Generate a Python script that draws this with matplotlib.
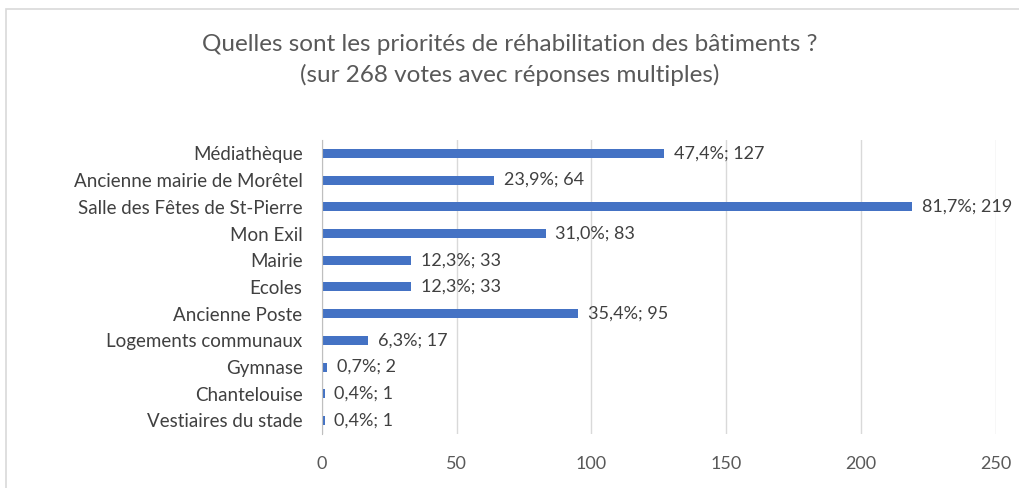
import matplotlib
matplotlib.use("Agg")
import matplotlib.pyplot as plt
from matplotlib.patches import Rectangle

categories = ["Médiathèque", "Ancienne mairie de Morêtel", "Salle des Fêtes de St-Pierre",
              "Mon Exil", "Mairie", "Ecoles", "Ancienne Poste", "Logements communaux",
              "Gymnase", "Chantelouise", "Vestiaires du stade"]
values = [127, 64, 219, 83, 33, 33, 95, 17, 2, 1, 1]
percents = ["47,4%", "23,9%", "81,7%", "31,0%", "12,3%", "12,3%", "35,4%", "6,3%", "0,7%", "0,4%", "0,4%"]
xticks = [0, 50, 100, 150, 200, 250]
title = "Quelles sont les priorités de réhabilitation des bâtiments ?\n(sur 268 votes avec réponses multiples)"

plt.rcParams['font.family'] = ['Lato', 'DejaVu Sans']

fig = plt.figure(figsize=(10.19, 4.88), dpi=100)
fig.patches.append(Rectangle((0.006, -0.1), 1.2, 1.082, transform=fig.transFigure,
                             fill=False, edgecolor="#d9d9d9", linewidth=1.2))
ax = fig.add_axes([0.316, 0.111, 0.661, 0.602])

ypos = list(range(len(categories)))
ax.barh(ypos, values, height=0.34, color="#4472C4", zorder=3)
for y, v, p in zip(ypos, values, percents):
    ax.annotate(f"{p}; {v}", xy=(v, y), xytext=(7, 0), textcoords="offset points",
                va="center", ha="left", fontsize=13, color="#404040")

ax.set_xlim(0, 250)
ax.set_ylim(len(categories) - 0.5, -0.5)
ax.set_yticks(ypos)
ax.set_yticklabels(categories, fontsize=13.5, color="#404040")
ax.set_xticks(xticks)
ax.set_xticklabels([str(t) for t in xticks], fontsize=13, color="#595959")
ax.tick_params(axis="both", length=0)
ax.tick_params(axis="x", pad=16)
ax.tick_params(axis="y", pad=14)
ax.grid(axis="x", color="#d9d9d9", linewidth=1, zorder=0)
for s in ["top", "right", "bottom"]:
    ax.spines[s].set_visible(False)
ax.spines["left"].set_color("#bfbfbf")
ax.spines["left"].set_zorder(4)

fig.text(0.5, 0.93, title, ha="center", va="top", fontsize=17.5, color="#595959",
         linespacing=1.5)

fig.savefig("out.png", dpi=100)
